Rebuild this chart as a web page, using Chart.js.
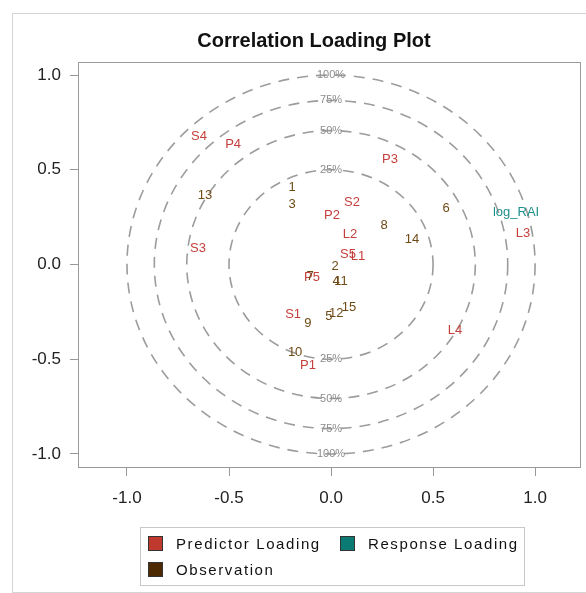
<!DOCTYPE html>
<html>
<head>
<meta charset="utf-8">
<title>Correlation Loading Plot</title>
<script src="https://cdn.jsdelivr.net/npm/chart.js@4.4.1/dist/chart.umd.min.js"></script>
<style>
  html, body { margin: 0; padding: 0; background: #fff; overflow: hidden; }
  body { width: 586px; height: 593px; position: relative; font-family: 'Liberation Sans', Arial, sans-serif; }
  #frame { position: absolute; left: 12px; top: 13px; width: 600px; height: 578px; border: 1px solid #d4d4d4; }
  #chart { position: absolute; left: 0; top: 0; }
  #title { position: absolute; left: 0; width: 628px; top: 29px; line-height: 22px; text-align: center; font-weight: bold; font-size: 20px; color: #111; }
  #legend { position: absolute; left: 140px; top: 527px; width: 383px; height: 57px; border: 1px solid #c8c8c8; font-size: 15px; letter-spacing: 1.6px; color: #111; }
  .item { position: absolute; display: flex; align-items: center; height: 18px; white-space: nowrap; }
  .sw { width: 13px; height: 13px; border: 1px solid #333; margin-right: 13px; }
</style>
</head>
<body>
<div id="frame"></div>
<canvas id="chart" width="586" height="593"></canvas>
<div id="title">Correlation Loading Plot</div>
<div id="legend"></div>
<script>
// Predictor loadings
const predictorLabels = ['S4', 'P4', 'P3', 'S3', 'S2', 'P2', 'L2', 'S5', 'L1', 'P5', 'S1', 'P1', 'L3', 'L4'];
const predictorX = [-0.647, -0.48, 0.289, -0.652, 0.103, 0.005, 0.093, 0.083, 0.132, -0.093, -0.186, -0.113, 0.941, 0.608];
const predictorY = [0.678, 0.636, 0.557, 0.087, 0.33, 0.261, 0.161, 0.055, 0.045, -0.066, -0.265, -0.53, 0.166, -0.346];

// Response loadings
const responseLabels = ['log_RAI'];
const responseX = [0.907];
const responseY = [0.277];

// Observations
const observationLabels = ['1', '2', '3', '4', '5', '6', '7', '8', '9', '10', '11', '12', '13', '14', '15'];
const observationX = [-0.191, 0.02, -0.191, 0.025, -0.01, 0.564, -0.103, 0.26, -0.113, -0.176, 0.049, 0.025, -0.618, 0.397, 0.088];
const observationY = [0.409, -0.008, 0.319, -0.087, -0.272, 0.298, -0.061, 0.208, -0.309, -0.462, -0.087, -0.256, 0.367, 0.135, -0.224];

// Explained-variance circles
const circleLabels = ['100%', '75%', '50%', '25%'];
const circleRadii = [1.0, 0.866, 0.707, 0.5];

const xTicks = [-1.0, -0.5, 0.0, 0.5, 1.0];
const yTicks = [-1.0, -0.5, 0.0, 0.5, 1.0];

const FONT = "'Liberation Sans', Arial, sans-serif";

const series = [
  { label: 'Predictor Loading', names: predictorLabels, xs: predictorX, ys: predictorY, text: '#c5403c', swatch: '#c0392f' },
  { label: 'Response Loading', names: responseLabels, xs: responseX, ys: responseY, text: '#1f8f8a', swatch: '#0b7a73' },
  { label: 'Observation', names: observationLabels, xs: observationX, ys: observationY, text: '#6e4a16', swatch: '#4d2a02' },
];

// draws circles, their % labels, the point names and the plot frame
const loadingPlot = {
  id: 'loadingPlot',
  beforeDatasetsDraw(chart) {
    const { ctx, chartArea: a, scales: { x, y } } = chart;
    const cx = x.getPixelForValue(0), cy = y.getPixelForValue(0);
    ctx.save();
    ctx.beginPath();
    ctx.rect(a.left, a.top, a.width, a.height);
    ctx.clip();
    ctx.strokeStyle = '#9c9c9c';
    ctx.lineWidth = 1.6;
    ctx.setLineDash([11, 8]);
    circleRadii.forEach(r => {
      ctx.beginPath();
      ctx.ellipse(cx, cy, Math.abs(x.getPixelForValue(r) - cx), Math.abs(y.getPixelForValue(r) - cy), 0, 0, Math.PI * 2);
      ctx.stroke();
    });
    ctx.setLineDash([]);
    ctx.font = '11px ' + FONT;
    ctx.fillStyle = '#8c8c8c';
    ctx.textAlign = 'center';
    ctx.textBaseline = 'middle';
    circleRadii.forEach((r, i) => {
      ctx.fillText(circleLabels[i], cx, y.getPixelForValue(r));
      ctx.fillText(circleLabels[i], cx, y.getPixelForValue(-r));
    });
    ctx.restore();
  },
  afterDatasetsDraw(chart) {
    const { ctx, chartArea: a } = chart;
    ctx.save();
    ctx.font = '13px ' + FONT;
    ctx.textAlign = 'center';
    ctx.textBaseline = 'middle';
    chart.data.datasets.forEach((ds, i) => {
      const meta = chart.getDatasetMeta(i);
      ctx.fillStyle = ds.textColor;
      meta.data.forEach((pt, j) => ctx.fillText(ds.names[j], pt.x, pt.y));
    });
    ctx.strokeStyle = '#9a9a9a';
    ctx.lineWidth = 1;
    ctx.strokeRect(a.left + 0.5, a.top + 0.5, a.width - 1, a.height - 1);
    ctx.restore();
  },
};

const axis = (ticks, fit) => ({
  type: 'linear',
  afterBuildTicks: s => { s.ticks = ticks.map(v => ({ value: v })); },
  afterFit: fit,
  ticks: { callback: v => Number(v).toFixed(1), font: { size: 17, family: FONT }, color: '#222' },
  grid: { drawOnChartArea: false, tickLength: 8, color: '#999' },
  border: { display: false },
});

const xAxis = axis(xTicks, s => { s.height = 40; });
xAxis.min = -1.24; xAxis.max = 1.225;
xAxis.ticks.padding = 12;
const yAxis = axis(yTicks, s => { s.width = 78; });
yAxis.min = -1.074; yAxis.max = 1.069;
yAxis.ticks.padding = 9;

new Chart(document.getElementById('chart'), {
  type: 'scatter',
  data: {
    datasets: series.map(s => ({
      label: s.label,
      data: s.xs.map((v, i) => ({ x: v, y: s.ys[i] })),
      names: s.names,
      textColor: s.text,
      pointRadius: 0,
      pointHoverRadius: 0,
    })),
  },
  options: {
    responsive: false,
    animation: false,
    layout: { padding: { left: 0, right: 5, top: 62, bottom: 85 } },
    plugins: { legend: { display: false }, tooltip: { enabled: false }, title: { display: false } },
    scales: { x: xAxis, y: yAxis },
  },
  plugins: [loadingPlot],
});

// legend box, laid out like the reference (two on the first row, one below)
const spots = [[7, 6], [199, 6], [7, 32]];
document.getElementById('legend').innerHTML = series.map((s, i) => `
  <div class="item" style="left:${spots[i][0]}px;top:${spots[i][1]}px">
    <div class="sw" style="background:${s.swatch}"></div>${s.label}
  </div>`).join('');
</script>
</body>
</html>
